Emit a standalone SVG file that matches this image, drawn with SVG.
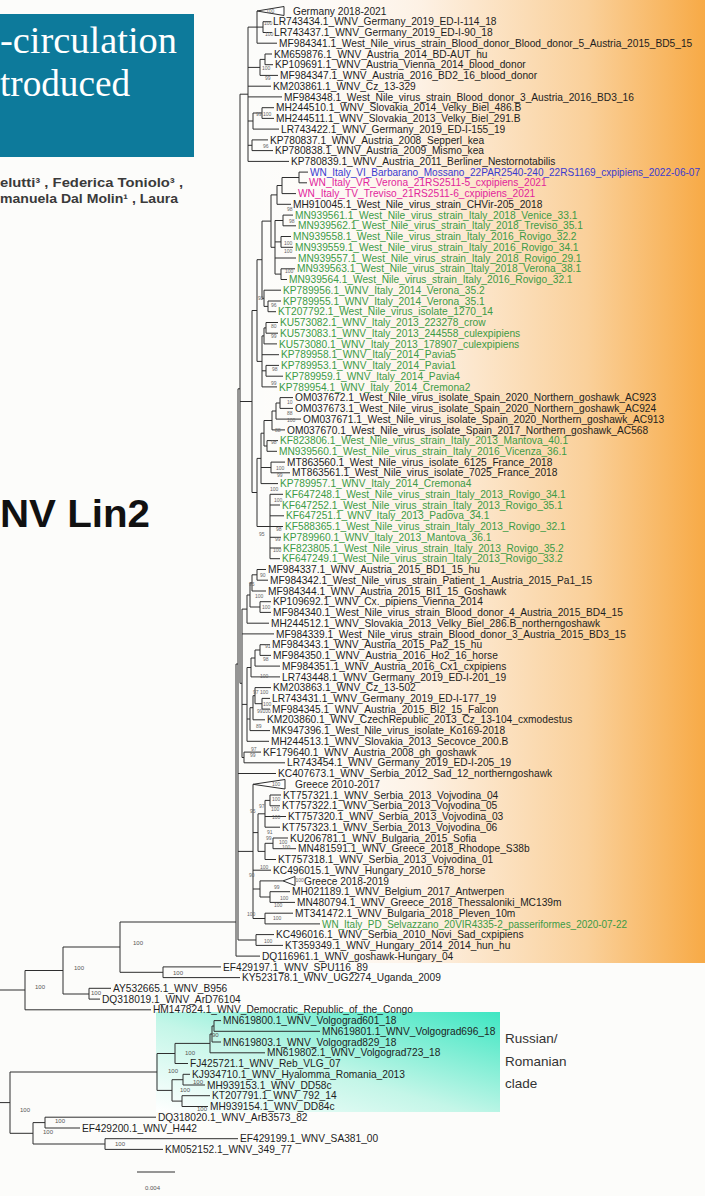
<svg xmlns="http://www.w3.org/2000/svg" width="705" height="1196" viewBox="0 0 705 1196">
<defs>
<linearGradient id="orange" x1="0" y1="0" x2="1" y2="0">
<stop offset="0" stop-color="#ffffff" stop-opacity="0"/>
<stop offset="0.4" stop-color="#fdf1e4"/>
<stop offset="0.75" stop-color="#fad09a"/>
<stop offset="1" stop-color="#f7aa46"/>
</linearGradient>
<linearGradient id="teal" x1="0" y1="1" x2="1" y2="0">
<stop offset="0" stop-color="#ffffff"/>
<stop offset="0.45" stop-color="#c4f6e8"/>
<stop offset="1" stop-color="#3ee6c2"/>
</linearGradient>
<style>
.t{font-family:"Liberation Sans",Arial,sans-serif;font-size:10.2px;fill:#1e1e1e}
.g{fill:#3c9b46}
.bl{fill:#3a3ad0}
.mg{fill:#e2259c}
.s{font-family:"Liberation Sans",Arial,sans-serif;font-size:5px;fill:#666}
.s6{font-family:"Liberation Sans",Arial,sans-serif;font-size:6px;fill:#555}
.br{stroke:#2e2e2e;stroke-width:1;fill:none}
.tri{stroke:#2e2e2e;stroke-width:1;fill:#ffffff}
.lab{font-family:"Liberation Sans",Arial,sans-serif;fill:#333}
</style>
</defs>
<rect x="0" y="0" width="705" height="1196" fill="#fcfcfa"/>

<g id="header">
<rect x="0" y="14" width="194" height="143" fill="#0d7a9b"/>
<text x="0" y="53" font-family="'Liberation Serif',serif" font-size="37.5" fill="#ffffff" textLength="177" lengthAdjust="spacingAndGlyphs">-circulation</text>
<text x="0" y="95.5" font-family="'Liberation Serif',serif" font-size="37.5" fill="#ffffff" textLength="130" lengthAdjust="spacingAndGlyphs">troduced</text>
<text x="0" y="187" font-family="'Liberation Sans',Arial,sans-serif" font-weight="bold" font-size="12" fill="#3a3a3a" textLength="183" lengthAdjust="spacingAndGlyphs">elutti³ , Federica Toniolo³ ,</text>
<text x="0" y="203" font-family="'Liberation Sans',Arial,sans-serif" font-weight="bold" font-size="12" fill="#3a3a3a" textLength="178" lengthAdjust="spacingAndGlyphs">manuela Dal Molin¹ , Laura</text>
</g>

<g id="lin2-label">
<text x="0" y="527" font-family="'Liberation Sans',Arial,sans-serif" font-weight="bold" font-size="38" fill="#111" textLength="150" lengthAdjust="spacingAndGlyphs">NV Lin2</text>
</g>

<g id="highlights">
<rect x="233" y="0" width="472" height="963" fill="url(#orange)"/>
<rect x="156" y="1012" width="344" height="100" fill="url(#teal)"/>
</g>

<g id="russian-label" class="lab" font-size="13.5">
<text x="505" y="1043">Russian/</text>
<text x="505" y="1066">Romanian</text>
<text x="505" y="1088">clade</text>
</g>

<g id="connectors" class="br">
<path d="M257 11V43.2 M257 27.1H263 M263 21.7V32.5 M263 21.7H271 M263 32.5H272 M257 43.2H277"/>
<path d="M248 27.1V161.4 M248 27.1H257 M248 67.4H260 M260 59.4V75.4 M260 59.4H265 M265 54V64.7 M265 54H272 M265 64.7H273 M260 75.4H278 M248 86.2H271 M248 96.9H282 M248 121H253 M253 113V129.1 M253 113H262 M262 107.7V118.4 M262 107.7H274 M262 118.4H274 M253 129.1H279 M248 145.3H252 M252 139.9V150.6 M252 139.9H268 M252 150.6H273 M248 161.4H289"/>
<path d="M299 172.1V182.8 M299 172.1H308 M299 182.8H307 M282 177.5V193.6 M282 177.5H299 M282 193.6H296 M277 185.5V204.3 M277 185.5H282 M277 204.3H291"/>
<path d="M283 215.1V225.8 M283 215.1H293 M283 225.8H296 M281 236.5V247.3 M281 236.5H291 M281 247.3H293 M281 268.8V279.5 M281 268.8H295 M281 279.5H287 M275 220.5V274.1 M275 220.5H283 M275 241.9H281 M275 258H296 M275 274.1H281"/>
<path d="M271 194.9V247.3 M271 194.9H277 M271 247.3H275"/>
<path d="M268 301V311.7 M268 301H281 M268 311.7H276 M264 290.2V306.4 M264 290.2H281 M264 306.4H268"/>
<path d="M262 221.1V298.3 M262 221.1H271 M262 298.3H264"/>
<path d="M266 322.5V333.2 M266 322.5H278 M266 333.2H278 M264 327.9V343.9 M264 327.9H266 M264 343.9H277"/>
<path d="M266 365.4V376.2 M266 365.4H279 M266 376.2H283"/>
<path d="M262 335.9V386.9 M262 335.9H264 M262 354.7H279 M262 370.8H266 M262 386.9H277"/>
<path d="M257 259.7V361.4 M257 259.7H262 M257 361.4H262"/>
<path d="M280 397.6V408.4 M280 397.6H293 M280 408.4H293 M276 403V419.1 M276 403H280 M276 419.1H301 M272 411V429.9 M272 411H276 M272 429.9H285"/>
<path d="M267 440.6V451.3 M267 440.6H278 M267 451.3H277 M264 420.5V446 M264 420.5H272 M264 446H267"/>
<path d="M271 462.1V472.8 M271 462.1H285 M271 472.8H290 M261 433.2V483.6 M261 433.2H264 M261 467.5H271 M261 483.6H278"/>
<path d="M270 494.3V558.7 M270 494.3H283 M270 505H280 M270 515.8H284 M270 526.5H283 M270 537.3H281 M270 548H281 M270 558.7H280"/>
<path d="M257 458.4V526.5 M257 458.4H261 M257 526.5H270 M252 310.5V492.5 M252 310.5H257 M252 492.5H257"/>
<path d="M257 569.5V580.2 M257 569.5H266 M257 580.2H268 M252 574.8V591 M252 574.8H257 M252 591H266 M260 601.7V612.4 M260 601.7H271 M260 612.4H271 M250 582.9V607 M250 582.9H252 M250 607H260 M247 595V623.2 M247 595H250 M247 623.2H269"/>
<path d="M260 644.7V655.4 M260 644.7H270 M260 655.4H271 M255 650V666.1 M255 650H260 M255 666.1H280 M251 658V676.9 M251 658H255 M251 676.9H280"/>
<path d="M262 698.4V709.1 M262 698.4H270 M262 709.1H270 M255 687.6V703.7 M255 687.6H271 M255 703.7H262 M253 695.7V719.8 M253 695.7H255 M253 719.8H265 M250 707.7V730.6 M250 707.7H253 M250 730.6H270 M247 667.5V741.3 M247 667.5H251 M247 719H250 M247 741.3H269"/>
<path d="M244 752.1V762.8 M244 752.1H261 M244 762.8H285 M242 609.1V757.5 M242 609.1H247 M242 633.9H274 M242 704.4H247 M242 757.5H244"/>
<path d="M240 94.2V683.3 M240 94.2H248 M240 401.5H252 M240 683.3H242"/>
<path d="M270 795V805.8 M270 795H281 M270 805.8H280 M265 800.4V827.2 M265 800.4H270 M265 816.5H286 M265 827.2H280"/>
<path d="M273 838V848.7 M273 838H288 M273 848.7H296 M265 843.3V859.5 M265 843.3H273 M265 859.5H276 M258 813.8V851.4 M258 813.8H265 M258 851.4H265"/>
<path d="M270 891.7V902.4 M270 891.7H290 M270 902.4H295 M260 880.9V897 M260 880.9H283 M260 897H270"/>
<path d="M265 913.2V923.9 M265 913.2H293 M265 923.9H320"/>
<path d="M253 784.3V918.5 M253 832.6H258 M253 870.2H271 M253 889H260 M253 918.5H265"/>
<path d="M256 934.6V945.4 M256 934.6H274 M256 945.4H283"/>
<path d="M238 388.8V940 M238 388.8H240 M238 773.5H276 M238 851.4H253 M238 940H256"/>
<path d="M236 664V956.1 M236 664H238 M236 956.1H260"/>
<path d="M163 966.9V977.6 M163 966.9H221 M163 977.6H240 M120 922V972.3 M120 922H236 M120 972.3H163 M63 947V994 M63 947H120 M89 988.3V999.1 M89 988.3H111 M89 999.1H100 M63 994H89 M25 970.5V1009.8 M25 970.5H63 M25 1009.8H151 M0 990H25"/>
<path d="M214 1020.6V1031.3 M214 1020.6H221 M214 1031.3H320 M212 1026V1042 M212 1026H214 M212 1042H221 M210 1034V1052.8 M210 1034H212 M210 1052.8H265 M175 1043.4V1063.5 M175 1043.4H210 M175 1063.5H188"/>
<path d="M183 1074.3V1085 M183 1074.3H190 M183 1085H205 M182 1095.7V1106.5 M182 1095.7H210 M182 1106.5H208 M172 1079.7V1101.1 M172 1079.7H183 M172 1101.1H182"/>
<path d="M157 1053.5V1090.4 M157 1053.5H175 M157 1090.4H172 M10 1072V1133.3 M10 1072H157 M0 1102.6H10"/>
<path d="M45 1117.2V1128 M45 1117.2H156 M45 1128H80 M105 1138.7V1149.4 M105 1138.7H238 M105 1149.4H163 M33 1122.6V1144 M33 1122.6H45 M33 1144H105 M10 1133.3H33"/>
<path d="M137 1172H175"/>
</g>

<g id="collapsed">
<polygon class="tri" points="257,11 284,6.5 284,15.5"/>
<polygon class="tri" points="253,784.3 285,779.5 285,789"/>
<polygon class="tri" points="283,880.9 295,876.5 295,885.5"/>
</g>

<g id="support">
<text class="s" x="266" y="13">100</text>
<text class="s" x="264" y="25">100</text>
<text class="s" x="265" y="36">100</text>
<text class="s" x="262" y="70">100</text>
<text class="s" x="265" y="80">99</text>
<text class="s" x="256" y="116">99 100</text>
<text class="s" x="263" y="148">96</text>
<text class="s" x="287" y="211">98</text>
<text class="s" x="289" y="223">98</text>
<text class="s" x="284" y="245">100</text>
<text class="s" x="284" y="253">100</text>
<text class="s" x="285" y="273">100</text>
<text class="s" x="258" y="300">92</text>
<text class="s" x="271" y="307">96</text>
<text class="s" x="271" y="328">80</text>
<text class="s" x="271" y="338">99</text>
<text class="s" x="272" y="371">98</text>
<text class="s" x="271" y="385">99</text>
<text class="s" x="287" y="404">10</text>
<text class="s" x="287" y="415">88</text>
<text class="s" x="287" y="422">100</text>
<text class="s" x="275" y="432">88</text>
<text class="s" x="271" y="444">98</text>
<text class="s" x="276" y="470">100</text>
<text class="s" x="277" y="477">99</text>
<text class="s" x="270" y="491">100</text>
<text class="s" x="274" y="502">100</text>
<text class="s" x="276" y="531">98</text>
<text class="s" x="259" y="536">95</text>
<text class="s" x="275" y="541">99</text>
<text class="s" x="273" y="552">100</text>
<text class="s" x="260" y="577">90</text>
<text class="s" x="249" y="586">95</text>
<text class="s" x="255" y="598">100</text>
<text class="s" x="262" y="609">100</text>
<text class="s" x="265" y="648">91</text>
<text class="s" x="263" y="661">98</text>
<text class="s" x="260" y="678">100</text>
<text class="s" x="253" y="694">97 100</text>
<text class="s" x="263" y="706">100</text>
<text class="s" x="257" y="713">99100</text>
<text class="s" x="256" y="728">89</text>
<text class="s" x="251" y="751">97</text>
<text class="s" x="250" y="757">99</text>
<text class="s" x="272" y="786">100</text>
<text class="s" x="272" y="801">100</text>
<text class="s" x="259" y="808">97</text>
<text class="s" x="271" y="811">100</text>
<text class="s" x="250" y="813">95</text>
<text class="s" x="272" y="819">100</text>
<text class="s" x="267" y="834">91</text>
<text class="s" x="266" y="840">99</text>
<text class="s" x="279" y="844">100</text>
<text class="s" x="282" y="849">100</text>
<text class="s" x="249" y="877">90</text>
<text class="s" x="260" y="869">100</text>
<text class="s" x="295.5" y="882">100</text>
<text class="s" x="274" y="889">99</text>
<text class="s" x="280" y="900">100</text>
<text class="s" x="274" y="907">100</text>
<text class="s" x="247" y="916">100</text>
<text class="s" x="273" y="920">100</text>
<text class="s" x="264" y="943">100</text>
<text class="s6" x="133" y="945">100</text>
<text class="s6" x="74" y="970">100</text>
<text class="s6" x="35" y="989">100</text>
<text class="s6" x="173" y="975">100</text>
<text class="s6" x="91" y="994.5">100</text>
<text class="s6" x="212" y="1037">90</text>
<text class="s6" x="185" y="1055">100</text>
<text class="s6" x="168" y="1073">100</text>
<text class="s6" x="193" y="1084">100</text>
<text class="s6" x="180" y="1092">100</text>
<text class="s6" x="197" y="1111">100</text>
<text class="s6" x="20" y="1112">100</text>
<text class="s6" x="55" y="1123">100</text>
<text class="s6" x="43" y="1134">100</text>
<text class="s6" x="115" y="1146">100</text>
<text class="s6" x="145" y="1190">0.004</text>
</g>

<g id="tips" class="t">
<text x="293" y="14.6">Germany 2018-2021</text>
<text x="273" y="25.3">LR743434.1_WNV_Germany_2019_ED-I-114_18</text>
<text x="274" y="36.1">LR743437.1_WNV_Germany_2019_ED-I-90_18</text>
<text x="279" y="46.8">MF984341.1_West_Nile_virus_strain_Blood_donor_Blood_donor_5_Austria_2015_BD5_15</text>
<text x="274" y="57.6">KM659876.1_WNV_Austria_2014_BD-AUT_hu</text>
<text x="275" y="68.3">KP109691.1_WNV_Austria_Vienna_2014_blood_donor</text>
<text x="280" y="79">MF984347.1_WNV_Austria_2016_BD2_16_blood_donor</text>
<text x="273" y="89.8">KM203861.1_WNV_Cz_13-329</text>
<text x="284" y="100.5">MF984348.1_West_Nile_virus_strain_Blood_donor_3_Austria_2016_BD3_16</text>
<text x="276" y="111.3">MH244510.1_WNV_Slovakia_2014_Velky_Biel_486.B</text>
<text x="276" y="122">MH244511.1_WNV_Slovakia_2013_Velky_Biel_291.B</text>
<text x="281" y="132.7">LR743422.1_WNV_Germany_2019_ED-I-155_19</text>
<text x="270" y="143.5">KP780837.1_WNV_Austria_2008_Sepperl_kea</text>
<text x="275" y="154.2">KP780838.1_WNV_Austria_2009_Mismo_kea</text>
<text x="291" y="165">KP780839.1_WNV_Austria_2011_Berliner_Nestornotabilis</text>
<text x="310" y="175.7" class="bl" textLength="390" lengthAdjust="spacingAndGlyphs">WN_Italy_VI_Barbarano_Mossano_22PAR2540-240_22RS1169_cxpipiens_2022-06-07</text>
<text x="309" y="186.4" class="mg">WN_Italy_VR_Verona_21RS2511-5_cxpipiens_2021</text>
<text x="298" y="197.2" class="mg">WN_Italy_TV_Treviso_21RS2511-6_cxpipiens_2021</text>
<text x="293" y="207.9">MH910045.1_West_Nile_virus_strain_CHVir-205_2018</text>
<text x="295" y="218.7" class="g">MN939561.1_West_Nile_virus_strain_Italy_2018_Venice_33.1</text>
<text x="298" y="229.4" class="g">MN939562.1_West_Nile_virus_strain_Italy_2018_Treviso_35.1</text>
<text x="293" y="240.1" class="g">MN939558.1_West_Nile_virus_strain_Italy_2016_Rovigo_32.2</text>
<text x="295" y="250.9" class="g">MN939559.1_West_Nile_virus_strain_Italy_2016_Rovigo_34.1</text>
<text x="298" y="261.6" class="g">MN939557.1_West_Nile_virus_strain_Italy_2018_Rovigo_29.1</text>
<text x="297" y="272.4" class="g">MN939563.1_West_Nile_virus_strain_Italy_2018_Verona_38.1</text>
<text x="289" y="283.1" class="g">MN939564.1_West_Nile_virus_strain_Italy_2016_Rovigo_32.1</text>
<text x="283" y="293.8" class="g">KP789956.1_WNV_Italy_2014_Verona_35.2</text>
<text x="283" y="304.6" class="g">KP789955.1_WNV_Italy_2014_Verona_35.1</text>
<text x="278" y="315.3" class="g">KT207792.1_West_Nile_virus_isolate_1270_14</text>
<text x="280" y="326.1" class="g">KU573082.1_WNV_Italy_2013_223278_crow</text>
<text x="280" y="336.8" class="g">KU573083.1_WNV_Italy_2013_244558_culexpipiens</text>
<text x="279" y="347.5" class="g">KU573080.1_WNV_Italy_2013_178907_culexpipiens</text>
<text x="281" y="358.3" class="g">KP789958.1_WNV_Italy_2014_Pavia5</text>
<text x="281" y="369" class="g">KP789953.1_WNV_Italy_2014_Pavia1</text>
<text x="285" y="379.8" class="g">KP789959.1_WNV_Italy_2014_Pavia4</text>
<text x="279" y="390.5" class="g">KP789954.1_WNV_Italy_2014_Cremona2</text>
<text x="295" y="401.2">OM037672.1_West_Nile_virus_isolate_Spain_2020_Northern_goshawk_AC923</text>
<text x="295" y="412">OM037673.1_West_Nile_virus_isolate_Spain_2020_Northern_goshawk_AC924</text>
<text x="303" y="422.7">OM037671.1_West_Nile_virus_isolate_Spain_2020_Northern_goshawk_AC913</text>
<text x="287" y="433.5">OM037670.1_West_Nile_virus_isolate_Spain_2017_Northern_goshawk_AC568</text>
<text x="280" y="444.2" class="g">KF823806.1_West_Nile_virus_strain_Italy_2013_Mantova_40.1</text>
<text x="279" y="454.9" class="g">MN939560.1_West_Nile_virus_strain_Italy_2016_Vicenza_36.1</text>
<text x="287" y="465.7">MT863560.1_West_Nile_virus_isolate_6125_France_2018</text>
<text x="292" y="476.4">MT863561.1_West_Nile_virus_isolate_7025_France_2018</text>
<text x="280" y="487.2" class="g">KP789957.1_WNV_Italy_2014_Cremona4</text>
<text x="285" y="497.9" class="g">KF647248.1_West_Nile_virus_strain_Italy_2013_Rovigo_34.1</text>
<text x="282" y="508.6" class="g">KF647252.1_West_Nile_virus_strain_Italy_2013_Rovigo_35.1</text>
<text x="286" y="519.4" class="g">KF647251.1_WNV_Italy_2013_Padova_34.1</text>
<text x="285" y="530.1" class="g">KF588365.1_West_Nile_virus_strain_Italy_2013_Rovigo_32.1</text>
<text x="283" y="540.9" class="g">KP789960.1_WNV_Italy_2013_Mantova_36.1</text>
<text x="283" y="551.6" class="g">KF823805.1_West_Nile_virus_strain_Italy_2013_Rovigo_35.2</text>
<text x="282" y="562.3" class="g">KF647249.1_West_Nile_virus_strain_Italy_2013_Rovigo_33.2</text>
<text x="268" y="573.1">MF984337.1_WNV_Austria_2015_BD1_15_hu</text>
<text x="270" y="583.8">MF984342.1_West_Nile_virus_strain_Patient_1_Austria_2015_Pa1_15</text>
<text x="268" y="594.6">MF984344.1_WNV_Austria_2015_BI1_15_Goshawk</text>
<text x="273" y="605.3">KP109692.1_WNV_Cx._pipiens_Vienna_2014</text>
<text x="273" y="616">MF984340.1_West_Nile_virus_strain_Blood_donor_4_Austria_2015_BD4_15</text>
<text x="271" y="626.8">MH244512.1_WNV_Slovakia_2013_Velky_Biel_286.B_northerngoshawk</text>
<text x="276" y="637.5">MF984339.1_West_Nile_virus_strain_Blood_donor_3_Austria_2015_BD3_15</text>
<text x="272" y="648.3">MF984343.1_WNV_Austria_2015_Pa2_15_hu</text>
<text x="273" y="659">MF984350.1_WNV_Austria_2016_Ho2_16_horse</text>
<text x="282" y="669.7">MF984351.1_WNV_Austria_2016_Cx1_cxpipiens</text>
<text x="282" y="680.5">LR743448.1_WNV_Germany_2019_ED-I-201_19</text>
<text x="273" y="691.2">KM203863.1_WNV_Cz_13-502</text>
<text x="272" y="702">LR743431.1_WNV_Germany_2019_ED-I-177_19</text>
<text x="272" y="712.7">MF984345.1_WNV_Austria_2015_BI2_15_Falcon</text>
<text x="267" y="723.4">KM203860.1_WNV_CzechRepublic_2013_Cz_13-104_cxmodestus</text>
<text x="272" y="734.2">MK947396.1_West_Nile_virus_isolate_Ko169-2018</text>
<text x="271" y="744.9">MH244513.1_WNV_Slovakia_2013_Secovce_200.B</text>
<text x="263" y="755.7">KF179640.1_WNV_Austria_2008_gh_goshawk</text>
<text x="287" y="766.4">LR743454.1_WNV_Germany_2019_ED-I-205_19</text>
<text x="278" y="777.1">KC407673.1_WNV_Serbia_2012_Sad_12_northerngoshawk</text>
<text x="295" y="787.9">Greece 2010-2017</text>
<text x="283" y="798.6">KT757321.1_WNV_Serbia_2013_Vojvodina_04</text>
<text x="282" y="809.4">KT757322.1_WNV_Serbia_2013_Vojvodina_05</text>
<text x="288" y="820.1">KT757320.1_WNV_Serbia_2013_Vojvodina_03</text>
<text x="282" y="830.8">KT757323.1_WNV_Serbia_2013_Vojvodina_06</text>
<text x="290" y="841.6">KU206781.1_WNV_Bulgaria_2015_Sofia</text>
<text x="298" y="852.3">MN481591.1_WNV_Greece_2018_Rhodope_S38b</text>
<text x="278" y="863.1">KT757318.1_WNV_Serbia_2013_Vojvodina_01</text>
<text x="273" y="873.8">KC496015.1_WNV_Hungary_2010_578_horse</text>
<text x="304" y="884.5">Greece 2018-2019</text>
<text x="292" y="895.3">MH021189.1_WNV_Belgium_2017_Antwerpen</text>
<text x="297" y="906">MN480794.1_WNV_Greece_2018_Thessaloniki_MC139m</text>
<text x="295" y="916.8">MT341472.1_WNV_Bulgaria_2018_Pleven_10m</text>
<text x="322" y="927.5" class="g" textLength="305" lengthAdjust="spacingAndGlyphs">WN_Italy_PD_Selvazzano_20VIR4335-2_passeriformes_2020-07-22</text>
<text x="276" y="938.2">KC496016.1_WNV_Serbia_2010_Novi_Sad_cxpipiens</text>
<text x="285" y="949">KT359349.1_WNV_Hungary_2014_2014_hun_hu</text>
<text x="262" y="959.7">DQ116961.1_WNV_goshawk-Hungary_04</text>
<text x="223" y="970.5">EF429197.1_WNV_SPU116_89</text>
<text x="242" y="981.2">KY523178.1_WNV_UG2274_Uganda_2009</text>
<text x="113" y="991.9">AY532665.1_WNV_B956</text>
<text x="102" y="1002.7">DQ318019.1_WNV_ArD76104</text>
<text x="153" y="1013.4">HM147824.1_WNV_Democratic_Republic_of_the_Congo</text>
<text x="223" y="1024.2">MN619800.1_WNV_Volgograd601_18</text>
<text x="322" y="1034.9">MN619801.1_WNV_Volgograd696_18</text>
<text x="223" y="1045.6">MN619803.1_WNV_Volgograd829_18</text>
<text x="267" y="1056.4">MN619802.1_WNV_Volgograd723_18</text>
<text x="190" y="1067.1">FJ425721.1_WNV_Reb_VLG_07</text>
<text x="192" y="1077.9">KJ934710.1_WNV_Hyalomma_Romania_2013</text>
<text x="207" y="1088.6">MH939153.1_WNV_DD58c</text>
<text x="212" y="1099.3">KT207791.1_WNV_792_14</text>
<text x="210" y="1110.1">MH939154.1_WNV_DD84c</text>
<text x="158" y="1120.8">DQ318020.1_WNV_ArB3573_82</text>
<text x="82" y="1131.6">EF429200.1_WNV_H442</text>
<text x="240" y="1142.3">EF429199.1_WNV_SA381_00</text>
<text x="165" y="1153">KM052152.1_WNV_349_77</text>
</g>
</svg>
